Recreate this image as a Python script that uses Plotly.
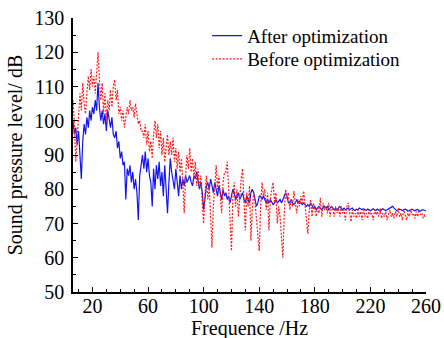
import plotly.graph_objects as go

freq = list(range(6, 261))

after = [
    100, 96, 98, 93, 97, 90, 83, 94, 99, 96,          # 6-15
    101, 98, 103, 100, 104, 102, 106, 103, 111, 104,  # 16-25
    100, 103, 99, 102, 97, 103, 100, 98, 101, 96,     # 26-35
    95, 97, 92, 94, 89, 91, 87, 88, 77, 86,           # 36-45
    84, 87, 82, 85, 80, 83, 79, 71, 84, 88,           # 46-55
    90, 86, 91, 85, 89, 84, 82, 75, 86, 80,           # 56-65
    87, 83, 88, 81, 85, 78, 87, 80, 73, 82,           # 66-75
    89, 85, 83, 80, 86, 82, 78, 84, 80, 83,           # 76-85
    81, 84, 82, 83, 84, 82, 81, 84, 83, 85,           # 86-95
    83, 80, 82, 79, 74, 78, 81, 82, 80, 83,           # 96-105
    81, 79, 82, 80, 78, 81, 79, 77, 80, 78,           # 106-115
    79, 77, 78, 76, 78, 80, 79, 77, 78, 79,           # 116-125
    77, 78, 79, 77, 76, 78, 77, 76, 79, 80,           # 126-135
    79, 77, 75, 76, 78, 78, 77, 78, 77, 76,           # 136-145
    77, 76, 77, 76, 75.5, 76, 77, 76, 76.5, 77,       # 146-155
    76, 77, 78, 79, 78, 76, 76, 77, 76, 75.5,         # 156-165
    76, 77, 76, 76.5, 76, 75.5, 76, 75.5, 75, 75.5,   # 166-175
    75, 76, 75, 74.5, 75, 74, 74.5, 75, 74.5, 74,     # 176-185
    74.5, 75, 74.5, 75, 74, 74.5, 75, 74.5, 74, 74.5, # 186-195
    74, 74.5, 75, 74.5, 74, 74.5, 74, 74.3, 74.5, 74, # 196-205
    74.2, 74.5, 74, 73.8, 74.2, 74, 74.5, 74.2, 74, 74.3,  # 206-215
    74, 73.8, 74.2, 74, 73.7, 74, 74.3, 74, 73.8, 74.2,    # 216-225
    74, 73.6, 74, 74.3, 74, 73.8, 74, 74.2, 74.5, 74.8,    # 226-235
    75, 74.5, 74, 73.7, 74, 74.2, 74, 73.8, 74, 74.2,      # 236-245
    74, 73.6, 73.8, 74, 74.2, 73.9, 73.7, 74, 74.1, 73.8,  # 246-255
    73.6, 73.9, 74, 73.8, 73.7,                            # 256-260
]

before = [
    106, 99, 88, 96, 101, 108, 103, 111, 105, 102,    # 6-15
    108, 113, 109, 115, 110, 113, 108, 114, 120, 112, # 16-25
    106, 111, 102, 108, 100, 106, 103, 109, 104, 110, # 26-35
    112, 106, 109, 102, 104, 100, 103, 98, 101, 104,  # 36-45
    102, 106, 103, 104, 101, 105, 102, 99, 100, 97,   # 46-55
    97, 95, 99, 93, 97, 91, 94, 89, 96, 100,          # 56-65
    95, 99, 92, 97, 90, 95, 88, 93, 96, 90,           # 66-75
    94, 90, 95, 88, 92, 86, 91, 85, 89, 82,           # 76-85
    73, 84, 90, 86, 92, 85, 89, 83, 88, 81,           # 86-95
    86, 80, 84, 76, 70, 79, 84, 77, 81, 72,           # 96-105
    63, 75, 83, 87, 80, 84, 78, 73, 82, 85,           # 106-115
    85, 88, 80, 70, 62, 77, 82, 75, 80, 72,           # 116-125
    79, 83, 86, 76, 68, 79, 75, 81, 65, 74,           # 126-135
    79, 76, 72, 68, 62, 75, 82, 78, 80, 74,           # 136-145
    79, 68, 77, 80, 82, 76, 79, 70, 75, 72,           # 146-155
    66, 60, 73, 80, 77, 79, 74, 77, 75, 79.5,         # 156-165
    76, 73, 77, 75, 78, 76, 79.5, 74, 71, 67,         # 166-175
    74, 77, 72, 76, 74, 72, 75, 73, 77.5, 72,         # 176-185
    76, 74, 75, 73, 76, 72, 75, 74, 72, 75,           # 186-195
    73, 74.5, 72, 75, 73, 74, 71, 75, 76, 73,         # 196-205
    70.5, 74, 72, 73, 71.5, 74, 72, 73.5, 71, 74.5,   # 206-215
    72, 73, 71.5, 74, 72.5, 73, 71, 74, 72.5, 73.5,   # 216-225
    72, 74.5, 71.5, 73, 72, 73.5, 71, 72.5, 74, 72,   # 226-235
    73, 71.5, 73.5, 72, 74.5, 72, 73, 71, 74, 72.5,   # 236-245
    71, 73, 72, 74, 72.5, 73, 71.5, 73.5, 72, 74,     # 246-255
    72.5, 73, 71.5, 72.5, 72,                         # 256-260
]

x_tickvals = [20, 60, 100, 140, 180, 220, 260]
y_tickvals = [50, 60, 70, 80, 90, 100, 110, 120, 130]

FONT = "Liberation Serif, Times New Roman, serif"

fig = go.Figure()
fig.add_trace(go.Scatter(
    x=freq, y=after, mode="lines", name="After optimization",
    line=dict(color="#1515f0", width=1.2), legend="legend",
))
fig.add_trace(go.Scatter(
    x=freq, y=before, mode="lines", name="Before optimization",
    line=dict(color="#ff1a1a", width=1.2, dash="2px,1.5px"), legend="legend2",
))

axis_common = dict(
    showline=True, linecolor="black", linewidth=1.5,
    showgrid=False, zeroline=False, mirror=False,
    ticks="inside", ticklen=5, tickwidth=1.2, tickcolor="black",
    tickfont=dict(family=FONT, size=20, color="black"),
)

legend_common = dict(
    xanchor="left", yanchor="middle",
    bgcolor="rgba(255,255,255,0)",
    font=dict(family=FONT, size=19, color="black"),
    itemwidth=30,
)

fig.update_layout(
    width=444, height=338,
    margin=dict(l=73, r=18, t=18, b=46, autoexpand=False),
    paper_bgcolor="white", plot_bgcolor="white",
    font=dict(family=FONT, color="black"),
    showlegend=True,
    legend=dict(x=0.38, y=0.935, **legend_common),
    legend2=dict(x=0.38, y=0.850, **legend_common),
    xaxis=dict(
        range=[6, 260],
        tickvals=x_tickvals,
        ticktext=[str(v) for v in x_tickvals],
        minor=dict(dtick=10, tick0=0, ticks="inside", ticklen=3, tickcolor="black", tickwidth=1),
        ticklabelstandoff=-5,
        **axis_common,
    ),
    yaxis=dict(
        range=[50, 130],
        tickvals=y_tickvals,
        ticktext=[str(v) for v in y_tickvals],
        minor=dict(dtick=5, tick0=0, ticks="inside", ticklen=3, tickcolor="black", tickwidth=1),
        title=dict(text="Sound pressure level/ dB", font=dict(family=FONT, size=20), standoff=6),
        ticklabelstandoff=3,
        **axis_common,
    ),
    annotations=[dict(
        text="Frequence /Hz", xref="paper", yref="paper",
        x=0.5, y=-0.135, xanchor="center", yanchor="middle",
        showarrow=False, font=dict(family=FONT, size=20, color="black"),
    )],
)

fig.write_html("out.html")
